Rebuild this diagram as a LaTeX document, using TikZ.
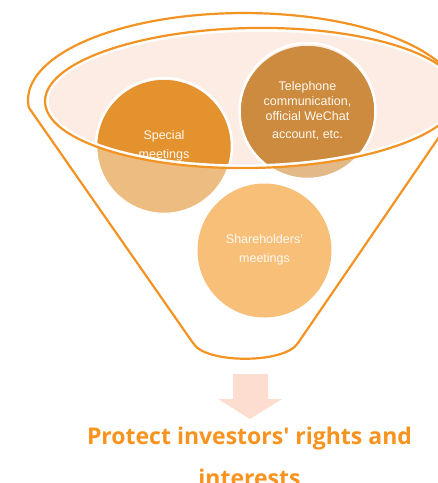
\documentclass[tikz,border=0pt]{standalone}
\usepackage{fontspec}
\setmainfont{Liberation Sans}
\newfontfamily\headfont{Open Sans}
\definecolor{funnelline}{HTML}{F39323}
\definecolor{rimfill}{HTML}{FDECE3}
\definecolor{specialdark}{HTML}{E3922E}
\definecolor{speciallight}{HTML}{EDBC80}
\definecolor{phonedark}{HTML}{CC8B3E}
\definecolor{phonelight}{HTML}{E2B987}
\definecolor{holders}{HTML}{F8BF78}
\definecolor{arrowfill}{HTML}{FCDDD0}
\definecolor{goaltext}{HTML}{F7931E}
\begin{document}
\begin{tikzpicture}[x=1pt, y=-1pt,
    bubble/.style={circle, draw=white, line width=2.5pt, minimum size=136pt, inner sep=0pt,
                   align=center, text=white!95!orange, font=\fontsize{12.5}{19}\selectfont}]
        \clip (0,0) rectangle (438,483);

        % Funnel body
        \draw[funnelline, line width=2.2pt, line join=round]
            (298,343) -- (459.2,107.6)
            arc[start angle=-5, end angle=185, x radius=216pt, y radius=87pt]
            -- (193,343) .. controls (205,364) and (285,364) .. (298,343);

        % Funnel rim
        \fill[rimfill] (252,98) ellipse[x radius=207pt, y radius=70pt, rotate=1];

        % Bubble fills (light below the rim, dark inside it)
        \fill[speciallight] (164,147) circle (67pt);
        \fill[phonelight] (307.5,113) circle (67pt);
        \fill[holders] (264.5,250.5) circle (67pt);
        \begin{scope}
            \clip (252,98) ellipse[x radius=207pt, y radius=70pt, rotate=1];
            \fill[specialdark] (164,147) circle (67pt);
            \fill[phonedark] (307.5,113) circle (67pt);
        \end{scope}

        % Bubbles
        \node[bubble] (S) at (164,146) {Special\\meetings};
        \node[bubble] (T) at (307.5,111) {Telephone\\[-4pt]communication,\\[-4pt]official WeChat\\[-1pt]account, etc.};
        \node[bubble, draw=none] (H) at (264.5,249.5) {Shareholders'\\meetings};

        % Rim outline on top
        \draw[white, line width=3.4pt] (252,98) ellipse[x radius=205pt, y radius=68pt, rotate=1];
        \draw[funnelline, line width=2.2pt] (252,98) ellipse[x radius=207pt, y radius=70pt, rotate=1];

        % Result
        \fill[arrowfill] (233,374) -- (268,374) -- (268,399) -- (282,399) -- (250,419)
            -- (218,399) -- (233,399) -- cycle;
        \node[text=goaltext, font=\headfont\bfseries\fontsize{23}{42}\selectfont, align=center,
              anchor=north] (G) at (249.5,423) {Protect investors' rights and\\interests};
\end{tikzpicture}
\end{document}
